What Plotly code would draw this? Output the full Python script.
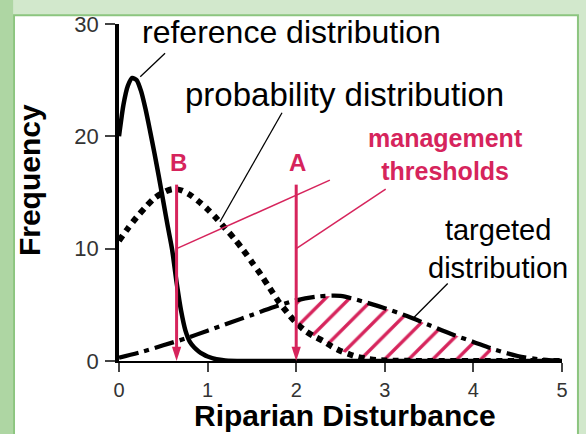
import numpy as np
import plotly.graph_objects as go

# ---- data -------------------------------------------------------------
# Reference distribution (solid)
ref_x = [0, 0.05, 0.1, 0.15, 0.2, 0.25, 0.3, 0.35, 0.4, 0.45, 0.5, 0.55, 0.6,
         0.65, 0.7, 0.75, 0.8, 0.85, 0.9, 0.95, 1.0, 1.1, 1.2, 1.4, 2, 3, 4, 5]
ref_y = [20.0, 22.8, 24.5, 25.2, 25.0, 24.0, 22.4, 20.5, 18.5, 16.4, 14.2, 12.0, 9.9,
         7.0, 4.5, 2.7, 1.7, 1.2, 0.85, 0.6, 0.4, 0.15, 0.05, 0, 0, 0, 0, 0]

# Probability distribution (dotted)
prob_x = [0, 0.1, 0.2, 0.3, 0.4, 0.5, 0.6, 0.7, 0.8, 0.9, 1.0, 1.1, 1.2, 1.3, 1.4,
          1.5, 1.6, 1.7, 1.8, 1.9, 2.0, 2.1, 2.2, 2.3, 2.4, 2.5, 2.6, 2.7, 2.8,
          2.9, 3.0, 3.5, 4.0, 4.5, 5.0]
prob_y = [10.7, 11.8, 12.8, 13.7, 14.5, 15.0, 15.3, 15.2, 14.8, 14.2, 13.5, 12.7,
          11.8, 10.9, 9.9, 8.8, 7.7, 6.5, 5.3, 4.3, 3.4, 2.7, 2.2, 1.8, 1.3, 0.9,
          0.6, 0.35, 0.2, 0.1, 0.05, 0, 0, 0, 0]

# Targeted distribution (dash-dot)
targ_x = [0, 0.25, 0.5, 0.75, 1.0, 1.25, 1.5, 1.75, 2.0, 2.25, 2.5, 2.75, 3.0,
          3.25, 3.5, 3.75, 4.0, 4.25, 4.5, 4.75, 5.0]
targ_y = [0.3, 0.8, 1.4, 2.0, 2.7, 3.4, 4.1, 4.8, 5.4, 5.75, 5.8, 5.3, 4.7,
          4.0, 3.2, 2.4, 1.7, 1.0, 0.45, 0.15, 0]

# Management thresholds
thr_names = ["B", "A"]
thr_x = [0.65, 2.0]
thr_top = 15.7
hatch_end = 4.2

# Callout lines: (x0, y0, x1, y1)
ref_callout = [0.24, 25.3, 0.52, 27.4]
prob_callout = [1.14, 12.4, 1.84, 22.1]
targ_callout = [3.32, 3.8, 3.71, 6.9]
thr_callouts = [[0.65, 10.0, 2.38, 16.1], [2.0, 10.0, 3.01, 15.3]]

x_ticks = [0, 1, 2, 3, 4, 5]
y_ticks = [0, 10, 20, 30]

RED = "#d6245c"
FONT = "Arial, Liberation Sans, sans-serif"

fig = go.Figure()

# ---- hatched area between probability and targeted curves beyond A ----
hx = np.linspace(thr_x[1], hatch_end, 60)
lower = np.interp(hx, prob_x, prob_y)
upper = np.maximum(np.interp(hx, targ_x, targ_y), lower)
fig.add_trace(go.Scatter(x=hx, y=lower, mode="lines", line=dict(width=0),
                         hoverinfo="skip", cliponaxis=False))
fig.add_trace(go.Scatter(x=hx, y=upper, mode="lines", line=dict(width=0),
                         fill="tonexty", fillcolor="rgba(0,0,0,0)",
                         fillpattern=dict(shape="/", fgcolor=RED, fgopacity=1,
                                          bgcolor="rgba(0,0,0,0)",
                                          fillmode="replace",
                                          size=17, solidity=0.2),
                         hoverinfo="skip", cliponaxis=False))

# ---- distributions ----------------------------------------------------
fig.add_trace(go.Scatter(x=targ_x, y=targ_y, mode="lines",
                         line=dict(color="black", width=4.2, shape="spline",
                                   smoothing=0.8, dash="20px,6px,5px,6px"),
                         cliponaxis=False))
fig.add_trace(go.Scatter(x=prob_x, y=prob_y, mode="lines",
                         line=dict(color="black", width=6, shape="spline",
                                   smoothing=0.8, dash="6px,5.5px"),
                         cliponaxis=False))
fig.add_trace(go.Scatter(x=ref_x, y=ref_y, mode="lines",
                         line=dict(color="black", width=4.5, shape="spline",
                                   smoothing=0.6),
                         cliponaxis=False))

# ---- threshold arrows -------------------------------------------------
for tx in thr_x:
    fig.add_trace(go.Scatter(x=[tx, tx], y=[thr_top, 0.6], mode="lines",
                             line=dict(color=RED, width=3), cliponaxis=False))
    fig.add_trace(go.Scatter(x=[tx], y=[0], mode="markers",
                             marker=dict(symbol="arrow", angle=180, size=15,
                                         color=RED, line=dict(width=0)),
                             cliponaxis=False))

# ---- background panel and callout lines -------------------------------
shapes = [
    dict(type="rect", xref="paper", yref="paper", x0=-0.237, x1=1.036,
         y0=-0.35, y1=1.026, fillcolor="white",
         line=dict(color="#8cc57f", width=2), layer="below"),
    dict(type="rect", xref="paper", yref="paper", x0=-0.3, x1=-0.239,
         y0=-0.35, y1=1.2, fillcolor="#aed6a3", line=dict(width=0),
         layer="below"),
]
for c in [ref_callout, prob_callout, targ_callout]:
    shapes.append(dict(type="line", xref="x", yref="y", x0=c[0], y0=c[1],
                       x1=c[2], y1=c[3], line=dict(color="black", width=1.3)))
for c in thr_callouts:
    shapes.append(dict(type="line", xref="x", yref="y", x0=c[0], y0=c[1],
                       x1=c[2], y1=c[3], line=dict(color=RED, width=1.5)))

# ---- labels -----------------------------------------------------------
def label(text, x, y, size=30, color="black", bold=False):
    t = f"<b>{text}</b>" if bold else text
    return dict(text=t, x=x, y=y, xref="x", yref="y", showarrow=False,
                xanchor="center", yanchor="middle", align="center",
                font=dict(family=FONT, size=size, color=color))

annotations = [
    label("reference distribution", 1.95, 29.3, size=32),
    label("probability distribution", 2.54, 23.7, size=33),
    label("management<br>thresholds", 3.68, 18.35, size=25, color=RED, bold=True),
    label("targeted<br>distribution", 4.28, 10.0, size=29),
]
for name, tx in zip(thr_names, thr_x):
    annotations.append(label(name, tx + 0.02, 17.7, size=24, color=RED, bold=True))

annotations.append(dict(text="<b>Frequency</b>", xref="paper", yref="paper",
                        x=-0.203, y=0.537, textangle=-90, showarrow=False,
                        xanchor="center", yanchor="middle",
                        font=dict(family=FONT, size=30, color="black")))
annotations.append(dict(text="<b>Riparian Disturbance</b>", xref="paper",
                        yref="paper", x=0.51, y=-0.1613, showarrow=False,
                        xanchor="center", yanchor="middle",
                        font=dict(family=FONT, size=30, color="black")))

fig.update_layout(
    width=586, height=434,
    margin=dict(l=119, r=24, t=20, b=73),
    paper_bgcolor="#d2e8cc",
    plot_bgcolor="rgba(0,0,0,0)",
    showlegend=False,
    shapes=shapes,
    annotations=annotations,
)
fig.update_xaxes(range=[0, 5], tickvals=x_ticks, ticks="outside", ticklen=9,
                 tickwidth=1.5, tickcolor="#444", showline=True, linewidth=1.5,
                 linecolor="black", showgrid=False, zeroline=False,
                 ticklabelstandoff=1,
                 tickfont=dict(family=FONT, size=20, color="#333"))
fig.update_yaxes(range=[0, 30], tickvals=y_ticks, ticks="outside", ticklen=10,
                 tickwidth=1.5, tickcolor="#444", showline=True, linewidth=3.5,
                 linecolor="black", showgrid=False, zeroline=False,
                 ticklabelstandoff=2,
                 tickfont=dict(family=FONT, size=22, color="#333"))

fig.write_html("out.html")
